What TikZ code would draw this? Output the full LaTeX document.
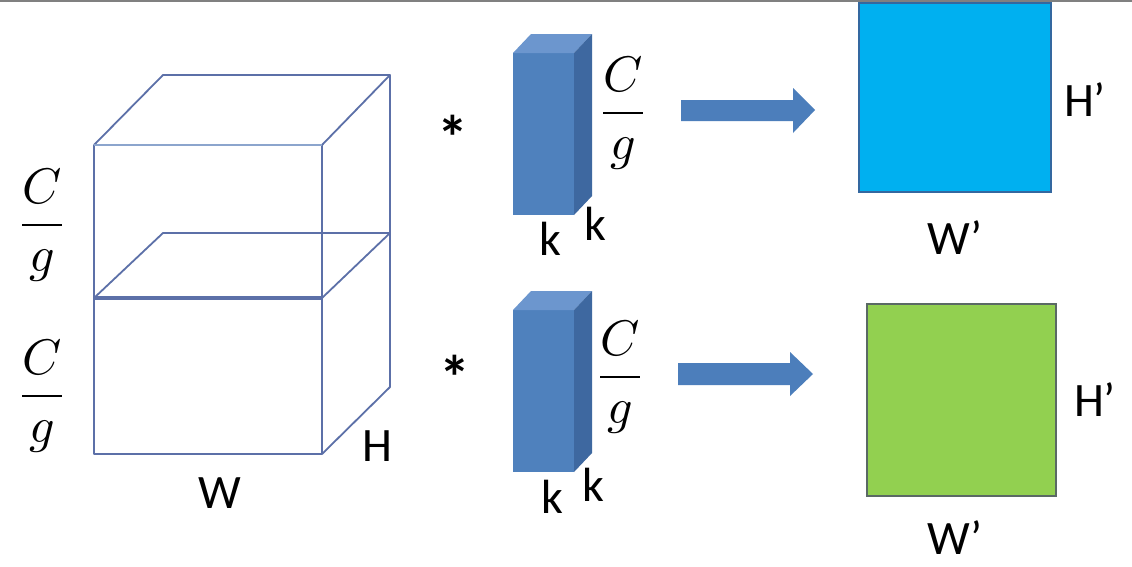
\documentclass[tikz,border=0pt]{standalone}
\usepackage{fontspec}
\setmainfont{Carlito}
\usepackage{unicode-math}
\setmathfont{Latin Modern Math}
\definecolor{edge}{RGB}{92,112,168}
\definecolor{edgelight}{RGB}{140,165,205}
\definecolor{kfront}{RGB}{79,129,189}
\definecolor{ktop}{RGB}{108,150,206}
\definecolor{kside}{RGB}{62,104,160}
\definecolor{arrowc}{RGB}{76,126,187}
\definecolor{sqblue}{RGB}{0,176,240}
\definecolor{sqblueedge}{RGB}{52,104,160}
\definecolor{sqgreen}{RGB}{146,208,80}
\definecolor{sqgreenedge}{RGB}{90,105,100}
\definecolor{topline}{RGB}{128,128,128}
\tikzset{
  cubeline/.style={draw=edge, line width=1.8pt, line join=round},
  lbl/.style={font=\fontsize{48}{56}\selectfont, text=black, inner sep=0pt},
  fraclbl/.style={font=\fontsize{50}{60}\selectfont, text=black, inner sep=0pt},
  kernfront/.style={fill=kfront},
  kerntop/.style={fill=ktop},
  kernside/.style={fill=kside},
  blockarrow/.style={fill=arrowc},
  outsq/.style={draw, line width=2pt, inner sep=0pt, outer sep=0pt},
  starlbl/.style={font=\fontsize{62}{70}\bfseries\selectfont, text=black, inner sep=0pt}
}
\begin{document}
\begin{tikzpicture}[x=1pt,y=-1pt]
\useasboundingbox (0,0) rectangle (1132,566);
\fill[white] (0,0) rectangle (1132,566);
\draw[topline, line width=2pt] (0,1) -- (1132,1);

% input cube
\coordinate (ftl) at (94,145);
\coordinate (ftr) at (322,145);
\coordinate (fml) at (94,298);
\coordinate (fmr) at (322,298);
\coordinate (fbl) at (94,454);
\coordinate (fbr) at (322,454);
\coordinate (btl) at (163,75);
\coordinate (btr) at (390,75);
\coordinate (bml) at (163,233);
\coordinate (bmr) at (390,233);
\coordinate (bbr) at (390,387);
\draw[cubeline] (ftl) -- (btl) -- (btr) -- (ftr);
\draw[cubeline] (btr) -- (bbr) -- (fbr);
\draw[cubeline] (fml) -- (bml) -- (bmr) -- (fmr);
\draw[cubeline] (ftl) -- (fbl) -- (fbr) -- (ftr);
\draw[draw=edgelight, line width=2.2pt] (ftl) -- (ftr);
\draw[cubeline, line width=3.6pt] (fml) -- (fmr);

\node[fraclbl] (cg1) at (42,225) {$\dfrac{C}{g}$};
\node[fraclbl] (cg2) at (42,396) {$\dfrac{C}{g}$};
\node[lbl] (W) at (220,493) {W};
\node[lbl] (H) at (377,446) {H};

% kernel 1
\fill[kernfront] (513,53) rectangle (574,215);
\fill[kerntop] (513,53) -- (531,34) -- (592,34) -- (574,53) -- cycle;
\fill[kernside] (574,53) -- (592,34) -- (592,196) -- (574,215) -- cycle;
\node[starlbl] (s1) at (453,137) {*};
\node[fraclbl] (kcg1) at (623,113) {$\dfrac{C}{g}$};
\node[lbl] (k1a) at (550,239) {k};
\node[lbl] (k1b) at (595,224) {k};

% kernel 2
\fill[kernfront] (513,310) rectangle (574,472);
\fill[kerntop] (513,310) -- (531,291) -- (592,291) -- (574,310) -- cycle;
\fill[kernside] (574,310) -- (592,291) -- (592,453) -- (574,472) -- cycle;
\node[starlbl] (s2) at (455,377) {*};
\node[fraclbl] (kcg2) at (620,377) {$\dfrac{C}{g}$};
\node[lbl] (k2a) at (552,497) {k};
\node[lbl] (k2b) at (593,485) {k};

% arrows
\fill[blockarrow] (681,100) -- (793,100) -- (793,88) -- (815,110) -- (793,133) -- (793,121) -- (681,121) -- cycle;
\fill[blockarrow] (678,363) -- (790,363) -- (790,352) -- (813,374) -- (790,396) -- (790,385) -- (678,385) -- cycle;

% outputs
\node[outsq, fill=sqblue, draw=sqblueedge, minimum width=192pt, minimum height=189pt] (o1) at (955,97.5) {};
\node[outsq, fill=sqgreen, draw=sqgreenedge, minimum width=189pt, minimum height=192pt] (o2) at (961.5,400) {};
\node[lbl] (Hp1) at (1085,100) {H’};
\node[lbl] (Wp1) at (955,238) {W’};
\node[lbl] (Hp2) at (1095,400) {H’};
\node[lbl] (Wp2) at (955,538) {W’};
\end{tikzpicture}
\end{document}
